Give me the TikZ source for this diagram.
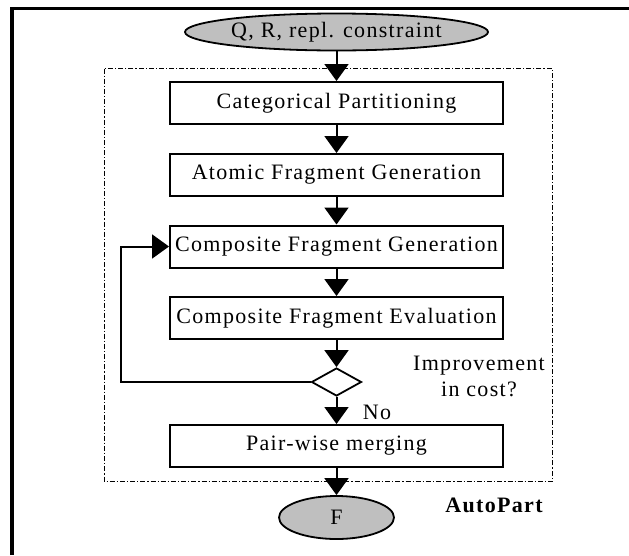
\documentclass[tikz,border=0pt]{standalone}
\usepackage{fontspec}
\setmainfont{Liberation Serif}[LetterSpace=6]
\usetikzlibrary{arrows.meta,shapes.geometric}
\begin{document}
\begin{tikzpicture}[x=1pt,y=-1pt,
  every node/.style={font=\fontsize{22}{26}\selectfont},
  stepbox/.style={draw,line width=2pt,minimum width=333pt,minimum height=42pt,inner sep=0pt},
  term/.style={draw,line width=1.8pt,ellipse,fill=gray!50!white,inner sep=0pt},
  conn/.style={line width=2pt,-{Triangle[width=24pt,length=17pt]}},
  dec/.style={draw,line width=1.8pt,diamond,minimum width=50pt,minimum height=28pt,aspect=1.8,inner sep=0pt}]
\useasboundingbox (0,0) rectangle (629,555);
\fill[white] (0,0) rectangle (629,555);
% outer frame (partly visible)
\draw[line width=3.5pt] (12,555) -- (12,8.5) -- (629,8.5);
% AutoPart dashed box
\draw[line width=1pt,dash pattern=on 5pt off 2pt on 1.2pt off 2pt] (104.5,68.5) rectangle (552.5,481.5);
% nodes
\node[term,minimum width=303pt,minimum height=37pt] (q) at (336.5,32) {\makebox[0pt]{Q, R, repl. constraint}};
\node[stepbox] (cat) at (336.5,103) {Categorical Partitioning};
\node[stepbox] (atom) at (336.5,175) {Atomic Fragment Generation};
\node[stepbox] (cg) at (336.5,246.5) {\makebox[0pt]{Composite Fragment Generation}};
\node[stepbox] (ce) at (336.5,318) {\makebox[0pt]{Composite Fragment Evaluation}};
\node[dec] (dia) at (336.5,382) {};
\node[stepbox] (pm) at (336.5,446) {Pair-wise merging};
\node[term,minimum width=115pt,minimum height=43pt] (f) at (336.5,517.5) {\makebox[0pt]{F}};
\coordinate (lp) at (121,382);
% labels
\node[align=center,inner sep=0pt] (imp) at (479,376) {Improvement\\in cost?};
\node[inner sep=0pt] (no) at (377,412) {No};
\node[inner sep=0pt,font=\fontsize{22}{26}\selectfont\bfseries] (ap) at (494,505) {AutoPart};
% connectors
\draw[conn] (q) -- (cat);
\draw[conn] (cat) -- (atom);
\draw[conn] (atom) -- (cg);
\draw[conn] (cg) -- (ce);
\draw[conn] (ce) -- (dia);
\draw[conn] (dia) -- (pm);
\draw[conn] (pm) -- (f);
\draw[conn] (dia.west) -- (lp) |- (cg.west);
\end{tikzpicture}
\end{document}
